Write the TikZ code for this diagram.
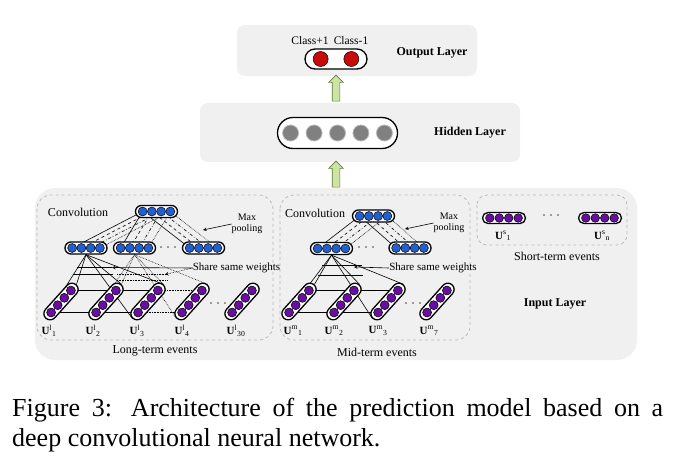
\documentclass[tikz,border=0pt]{standalone}
\usepackage{fontspec}
\setmainfont{Liberation Serif}
\usepackage{amsmath}
\usetikzlibrary{positioning,calc,shapes.misc,shapes.arrows}
\pgfdeclarelayer{bg}
\pgfdeclarelayer{wires}
\pgfsetlayers{bg,wires,main}

\definecolor{nblue}{RGB}{35,95,205}
\definecolor{npurple}{RGB}{105,15,160}
\definecolor{nred}{RGB}{200,10,10}
\definecolor{ngray}{RGB}{128,128,128}
\definecolor{agreen}{RGB}{205,228,165}
\definecolor{agreenline}{RGB}{95,125,55}

\tikzset{
  layerbox/.style={fill=gray!12, rounded corners=8pt},
  groupbox/.style={draw=gray!55, dashed, line width=0.8pt, rounded corners=14pt},
  pill/.style={rounded rectangle, draw, line width=1.3pt, fill=white, inner sep=0pt},
  hpill/.style={pill, minimum width=42pt, minimum height=12pt},
  spill/.style={pill, minimum width=45pt, minimum height=12.5pt, rotate=48},
  bdot/.style={circle, draw, line width=0.5pt, inner sep=0pt, minimum size=9pt, fill=nblue},
  pdot/.style={bdot, fill=npurple},
  rdot/.style={bdot, minimum size=15pt, fill=nred},
  gdot/.style={circle, draw=gray!55, line width=0.8pt, inner sep=0pt, minimum size=16pt, fill=ngray},
  uparrow/.style={single arrow, rotate=90, draw=agreenline, fill=agreen, line width=0.6pt,
    minimum height=26pt, minimum width=14pt, inner sep=3.5pt, single arrow head extend=3.5pt},
  txt/.style={font=\fontsize{12}{14}\selectfont, inner sep=0pt},
  stxt/.style={font=\fontsize{11}{12}\selectfont, inner sep=0pt},
  ptxt/.style={font=\fontsize{10}{11}\selectfont, inner sep=0pt, align=center},
  lbl/.style={font=\fontsize{12}{14}\selectfont\bfseries, inner sep=0pt},
  ulbl/.style={font=\fontsize{11}{13}\selectfont, inner sep=0pt},
  wire/.style={line width=0.6pt},
  pool1/.style={solid},
  pool2/.style={dashed},
  pool3/.style={dash dot},
  pool4/.style={densely dotted},
  capt/.style={text width=651pt, align=justify, inner sep=0pt, font=\fontsize{26}{30}\selectfont},
}

\begin{document}
\begin{tikzpicture}[x=1pt,y=-1pt]
\useasboundingbox (0,0) rectangle (676,474);

% 層の背景
\begin{pgfonlayer}{bg}
  \fill[layerbox] (237,25) rectangle (477,76);
  \fill[layerbox] (200,103) rectangle (520,162);
  \fill[layerbox, rounded corners=20pt] (35,188) rectangle (637,360);
  \draw[groupbox] (37,195) rectangle (273,340);
  \draw[groupbox] (280,195) rectangle (470,340);
  \draw[groupbox, rounded corners=10pt] (477,195) rectangle (627,245);
\end{pgfonlayer}

% 出力層
\node[pill, minimum width=62pt, minimum height=20pt] (out) at (336,59) {};
\foreach \f [count=\i] in {0.258,0.742}
  \node[rdot] (out-\i) at ($(out.west)!\f!(out.east)$) {};
\node[stxt, font=\fontsize{11.5}{13}\selectfont] (cp) at (310,41) {Class+1};
\node[stxt, font=\fontsize{11.5}{13}\selectfont] (cm) at (351,41) {Class-1};
\node[lbl] (outl) at (432,53) {Output Layer};

% 隠れ層
\node[pill, minimum width=120pt, minimum height=31pt] (hid) at (337.5,133) {};
\foreach \f [count=\i] in {0.113,0.307,0.5,0.693,0.887}
  \node[gdot] (hid-\i) at ($(hid.west)!\f!(hid.east)$) {};
\node[lbl] (hidl) at (470,133) {Hidden Layer};

% 矢印
\node[uparrow] (a1) at (336,90) {};
\node[uparrow] (a2) at (336,176) {};

% 畳み込み層 (横)
\foreach \n/\x/\y in {lt/156.5/211.5, lm1/86/248, lm2/134.5/248, lm3/203.5/248,
                      mt/373.5/216, mm1/331.5/248.5, mm2/410/248}
  \node[hpill] (\n) at (\x,\y) {};
\foreach \n in {lt,lm1,lm2,lm3,mt,mm1,mm2}
  \foreach \f [count=\i] in {0.18,0.393,0.607,0.82}
    \node[bdot] (\n-\i) at ($(\n.west)!\f!(\n.east)$) {};

% 入力 (斜め)
\foreach \n/\x in {l1/61, l2/106, l3/148, l4/192, l5/242, m1/299, m2/344, m3/388, m4/437} {
  \node[spill] (\n) at (\x,301.5) {};
  \foreach \f [count=\i] in {0.18,0.393,0.607,0.82}
    \node[pdot] (\n-\i) at ($(\n.west)!\f!(\n.east)$) {};
}

% 短期
\foreach \n/\x in {s1/504, s2/600} {
  \node[hpill, minimum width=43pt, minimum height=11pt] (\n) at (\x,218) {};
  \foreach \f [count=\i] in {0.18,0.393,0.607,0.82}
    \node[pdot, minimum size=8.6pt] (\n-\i) at ($(\n.west)!\f!(\n.east)$) {};
}

% 点
\foreach \n/\x/\y in {ld1/168/249, ld2/218/305, md1/366/249, md2/413/305, sd/551/217}
  \node[txt] (\n) at (\x,\y) {· · ·};

% ラベル
\foreach \n/\x/\s/\t in {ul1/49/l/1, ul2/93/l/2, ul3/137/l/3, ul4/182/l/4, ul5/236/l/30,
                         um1/293/m/1, um2/334/m/2, um3/378/m/3, um4/429/m/7}
  \node[ulbl] (\n) at (\x,331) {$\textbf{U}^{\text{\s}}{}_{\text{\t}}$};
\node[ulbl] (us1) at (503,236) {$\textbf{U}^{\text{s}}{}_{\text{1}}$};
\node[ulbl] (us2) at (602,236) {$\textbf{U}^{\text{s}}{}_{\text{n}}$};

\node[txt] (lconv) at (78,212) {Convolution};
\node[txt] (mconv) at (315,213) {Convolution};
\node[ptxt] (lmax) at (247,224) {Max\\pooling};
\node[ptxt] (mmax) at (449,223) {Max\\pooling};
\node[stxt] (lsh) at (236.5,268) {Share same weights};
\node[stxt] (msh) at (433,268) {Share same weights};
\node[txt] (lev) at (155,351) {Long-term events};
\node[txt] (mev) at (377,352) {Mid-term events};
\node[txt] (sev) at (557,256) {Short-term events};
\node[lbl] (inl) at (555,304) {Input Layer};

% 矢印の先
\coordinate (lmaxp) at (203,230);
\coordinate (mmaxp) at (405,229);
\coordinate (lsh1) at (112,267.5);
\coordinate (lsh2) at (165,274.5);
\coordinate (msh1) at (354,267);
\draw[wire, -stealth] (lmax.west) -- (lmaxp);
\draw[wire, -stealth] (mmax.west) -- (mmaxp);
\draw[wire, -stealth] (lsh.west) -- (lsh1);
\draw[wire, densely dotted, -stealth] (lsh.west) -- (lsh2);
\draw[wire, -stealth] (msh.west) -- (msh1);

% 結線
\begin{pgfonlayer}{wires}
  \foreach \k in {lm1,lm2,lm3}
    \foreach \j in {1,...,4}
      \draw[wire, pool\j] (\k-\j) -- (lt-\j);
  \foreach \k in {mm1,mm2}
    \foreach \j in {1,...,4}
      \draw[wire, pool\j] (\k-\j) -- (mt-\j);
  \foreach \b in {l1.east,l1.west,l2.east,l3.east,l3.west}
    \draw[wire] (lm1.south) -- (\b);
  \foreach \b in {l2.east,l2.west,l3.east,l4.east,l4.west}
    \draw[wire, densely dotted] (lm2.south) -- (\b);
  \foreach \b in {m1.east,m1.west,m2.east,m3.east,m3.west}
    \draw[wire] (mm1.south) -- (\b);
  \draw[wire] (l1-4) -- (l3-4);
  \draw[wire] (l1-1) -- (l3-1);
  \draw[wire, densely dotted] (l2-4) -- (l4-4);
  \draw[wire, densely dotted] (l2-1) -- (l4-1);
  \draw[wire] (m1-4) -- (m3-4);
  \draw[wire] (m1-1) -- (m3-1);
  \draw[wire] ($(lm1.south)+(-9,13)$) -- ++(35,0);
  \draw[wire] ($(lm1.south)+(-13,20)$) -- ++(40,0);
  \draw[wire, densely dotted] ($(lm2.south)+(-17.5,20)$) -- ++(50,0);
  \draw[wire, densely dotted] ($(lm2.south)+(-17.5,26)$) -- ++(50,0);
  \draw[wire] ($(mm1.south)+(-9.5,10.5)$) -- ++(40,0);
  \draw[wire] ($(mm1.south)+(-13.5,20.5)$) -- ++(45,0);
\end{pgfonlayer}

% 図の説明
\node[capt, anchor=north west] (cap) at (12,398) {Figure 3: Architecture of the prediction model based on a\linebreak deep convolutional neural network.};
\end{tikzpicture}
\end{document}
